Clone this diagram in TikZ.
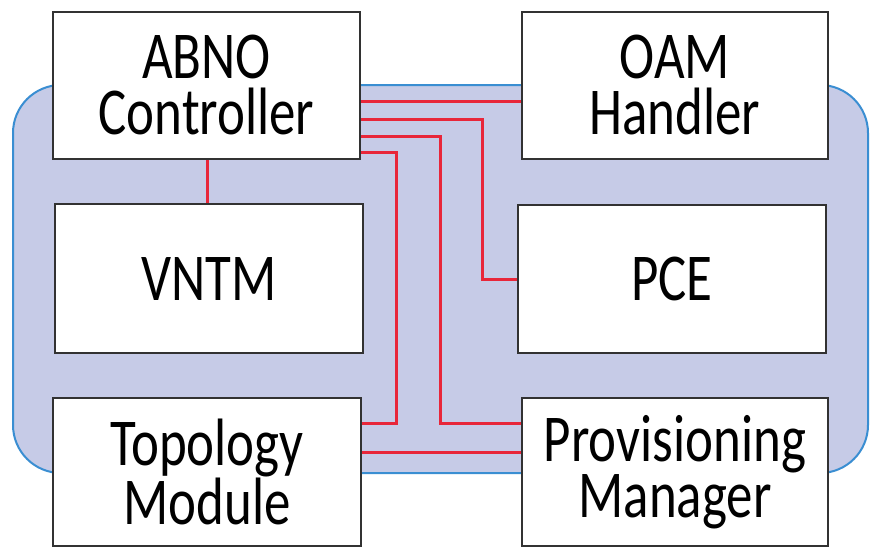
\documentclass[tikz,border=0pt]{standalone}
\usepackage{fontspec}
\setmainfont{Carlito}[FakeStretch=0.79]
\pgfdeclarelayer{bg}
\pgfsetlayers{bg,main}
\definecolor{panelfill}{RGB}{198,203,231}
\definecolor{panelline}{RGB}{58,142,210}
\definecolor{linkred}{RGB}{232,38,58}
\definecolor{boxline}{RGB}{50,50,50}
\tikzset{
  modbox/.style={draw=boxline, line width=2.4pt, fill=white, anchor=north west,
    inner sep=0pt, outer sep=0pt, align=center,
    font=\fontsize{67}{56}\selectfont},
  link/.style={draw=linkred, line width=3pt},
  panel/.style={draw=panelline, line width=2pt, fill=panelfill, rounded corners=48pt}
}
\begin{document}
\begin{tikzpicture}[x=1pt,y=-1pt]
\useasboundingbox (0,0) rectangle (870,547);
% modules
\node[modbox, minimum width=307pt, minimum height=147pt] (abno) at (53,12) {ABNO\\Controller};
\node[modbox, minimum width=306pt, minimum height=147pt] (oam) at (522,12) {OAM\\Handler};
\node[modbox, minimum width=308pt, minimum height=149pt] (vntm) at (55,204) {VNTM};
\node[modbox, minimum width=308pt, minimum height=148pt] (pce) at (518,205) {PCE};
\node[modbox, minimum width=308pt, minimum height=148pt] (topo) at (53,398) {Topology\\Module};
\node[modbox, minimum width=306pt, minimum height=148pt] (prov) at (522,398) {Provisioning\\Manager};
% routing points
\coordinate (y1) at (0,101);
\coordinate (k2a) at (482,119);
\coordinate (k2b) at (482,279);
\coordinate (k3a) at (440,136);
\coordinate (k3b) at (440,423);
\coordinate (k4a) at (396,152);
\coordinate (k4b) at (396,423);
\coordinate (y5) at (0,452);
\coordinate (x6) at (207,0);
\begin{pgfonlayer}{bg}
\draw[panel] (13,85) rectangle (868,473);
\draw[link] (abno.east |- y1) -- (oam.west |- y1);
\draw[link] (abno.east |- k2a) -- (k2a) -- (k2b) -- (pce.west |- k2b);
\draw[link] (abno.east |- k3a) -- (k3a) -- (k3b) -- (prov.west |- k3b);
\draw[link] (abno.east |- k4a) -- (k4a) -- (k4b) -- (topo.east |- k4b);
\draw[link] (topo.east |- y5) -- (prov.west |- y5);
\draw[link] (abno.south -| x6) -- (vntm.north -| x6);
\end{pgfonlayer}
\end{tikzpicture}
\end{document}
